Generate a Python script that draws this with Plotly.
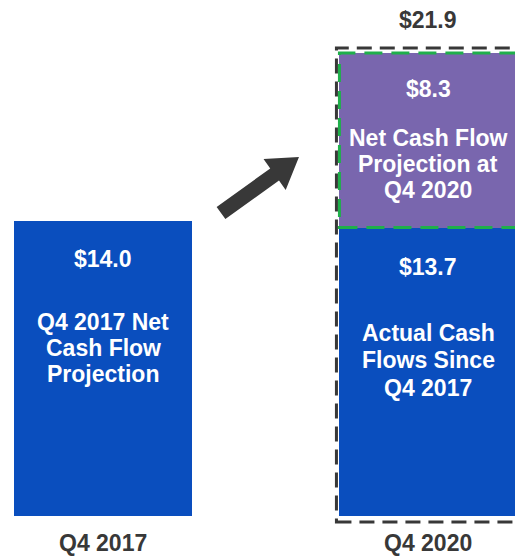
import math
import plotly.graph_objects as go

categories = ["Q4 2017", "Q4 2020"]
projection_2017 = [14.0, None]
actual_since_2017 = [None, 13.7]
projection_2020 = [None, 8.3]
total_2020 = 21.9

label_2017 = ["Q4 2017 Net", "Cash Flow", "Projection"]
label_actual = ["Actual Cash", "Flows Since", "Q4 2017"]
label_proj2020 = ["Net Cash Flow", "Projection at", "Q4 2020"]

BLUE = "#0A4EBE"
PURPLE = "#7966AE"
GREEN = "#1FAF4B"
DARK = "#383838"
FONT = "Liberation Sans, Arial, sans-serif"

OFF = 8                 # page body margin
W, H = 523 - OFF, 560 - OFF
ZPX = 516 - OFF         # pixel row of the zero line
YSC = 21.05             # px per unit
YMAX = ZPX / YSC
YMIN = -(H - ZPX) / YSC
X0PX = 103 - OFF
XSC = 325.0
XMIN, XMAX = -X0PX / XSC, (W - X0PX) / XSC
BW = 0.545

def dx(p):
    return p / XSC
def dy(p):
    return p / YSC

xs = [0, 1]
fig = go.Figure()
fig.add_trace(go.Bar(x=xs, y=projection_2017, marker=dict(color=BLUE, line=dict(width=0)),
                     width=BW, name="Q4 2017 projection", hoverinfo="y"))
fig.add_trace(go.Bar(x=xs, y=actual_since_2017, marker=dict(color=BLUE, line=dict(width=0)),
                     width=BW, name="Actual", hoverinfo="y"))
fig.add_trace(go.Bar(x=xs, y=projection_2020, marker=dict(color=PURPLE, line=dict(width=0)),
                     width=BW, name="Projection Q4 2020", hoverinfo="y"))

white = dict(family=FONT, size=23, color="white")
grey = dict(family=FONT, size=23, color=DARK)
ann = []

def block(x, top, value, lines, v_off, l_off, step):
    ann.append(dict(x=x, y=top - dy(v_off), text="<b>$%.1f</b>" % value, font=white,
                    showarrow=False, yanchor="middle"))
    for k, t in enumerate(lines):
        ann.append(dict(x=x, y=top - dy(l_off + k * step), text="<b>%s</b>" % t, font=white,
                        showarrow=False, yanchor="middle"))

v0 = projection_2017[0]
block(0, v0, v0, label_2017, 38, 101, 26)
va = actual_since_2017[1]
block(1, va, va, label_actual, 39, 105, 27.5)
vp = projection_2020[1]
top = va + vp
block(1, top, vp, label_proj2020, 36, 85, 26)

ann.append(dict(x=1, y=total_2020 + dy(35), yanchor="middle", text="<b>$%.1f</b>" % total_2020,
                font=grey, showarrow=False))
for i, c in enumerate(categories):
    ann.append(dict(x=xs[i], y=-dy(27), yanchor="middle", text="<b>%s</b>" % c,
                    font=grey, showarrow=False))

shapes = []
shapes.append(dict(type="rect", x0=1 - BW / 2 - dx(3), x1=1 + BW / 2 + dx(3),
                   y0=-dy(6), y1=top + dy(5),
                   line=dict(color=DARK, width=3, dash="15px,8px"), layer="above"))
shapes.append(dict(type="rect", x0=1 - BW / 2, x1=1 + BW / 2, y0=va, y1=top,
                   line=dict(color=GREEN, width=3, dash="18px,9px"), layer="above"))

# thick arrow (reference pixel geometry -> paper coords)
T = (221.0 - OFF, 213.0 - OFF)
P = (299.0 - OFF, 157.0 - OFF)
ux, uy = P[0] - T[0], P[1] - T[1]
L = math.hypot(ux, uy)
ux, uy = ux / L, uy / L
nx, ny = -uy, ux
hl, sw, hw = 30.0, 7.5, 19.0
B = (P[0] - hl * ux, P[1] - hl * uy)
pts = [
    (T[0] - sw * nx, T[1] - sw * ny),
    (B[0] - sw * nx, B[1] - sw * ny),
    (B[0] - hw * nx, B[1] - hw * ny),
    P,
    (B[0] + hw * nx, B[1] + hw * ny),
    (B[0] + sw * nx, B[1] + sw * ny),
    (T[0] + sw * nx, T[1] + sw * ny),
]
path = "M " + " L ".join("%.4f,%.4f" % (px / W, 1 - py / H) for px, py in pts) + " Z"
shapes.append(dict(type="path", xref="paper", yref="paper", path=path,
                   fillcolor=DARK, line=dict(width=0)))

fig.update_layout(
    width=W, height=H,
    margin=dict(l=0, r=0, t=0, b=0, pad=0),
    barmode="stack",
    showlegend=False,
    plot_bgcolor="white", paper_bgcolor="white",
    xaxis=dict(range=[XMIN, XMAX], visible=False, fixedrange=True),
    yaxis=dict(range=[YMIN, YMAX], visible=False, fixedrange=True),
    annotations=ann,
    shapes=shapes,
    font=dict(family=FONT),
)

fig.write_html("out.html")
